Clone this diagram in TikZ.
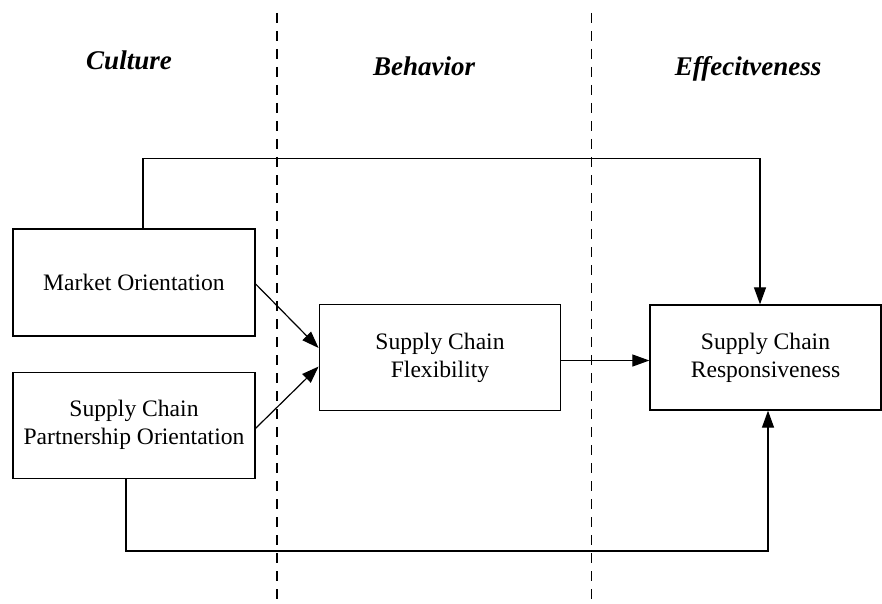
\documentclass[tikz,border=0pt]{standalone}
\usepackage{fontspec}
\setmainfont{Liberation Serif}
\usetikzlibrary{arrows.meta}
\begin{document}
\begin{tikzpicture}[x=1pt,y=-1pt,
  box/.style={draw, line width=1.3pt, align=center, inner sep=0pt,
    font=\fontsize{23.6}{28}\selectfont},
  head/.style={anchor=base, font=\fontsize{27}{32}\selectfont\bfseries\itshape},
  link/.style={line width=1.2pt, -{Triangle[length=17pt,width=12pt]}},
  plain/.style={line width=1.2pt},
  sep/.style={line width=1.2pt, dash pattern=on 10pt off 8pt}]
\useasboundingbox (0,0) rectangle (882,604);

% column separators
\draw[sep] (277,13) -- (277,604);
\draw[sep] (591.5,13) -- (591.5,604);

% column headings
\node[head] (hculture) at (129,70) {Culture};
\node[head] (hbehavior) at (424,75.5) {Behavior};
\node[head] (heffect) at (748,75.5) {Effecitveness};

% boxes
\node[box, minimum width=242pt, minimum height=107pt] (market) at (134,282.5) {Market Orientation};
\node[box, minimum width=242pt, minimum height=106pt] (partner) at (134,425.3) {Supply Chain\\Partnership Orientation};
\node[box, minimum width=241.5pt, minimum height=105.5pt] (flex) at (440,357.5) {Supply Chain\\Flexibility};
\node[box, minimum width=231pt, minimum height=105pt] (resp) at (765.5,357.5) {Supply Chain\\Responsiveness};

% connectors
\draw[link] ([yshift=-1.5pt]market.east) -- ([yshift=9.5pt]flex.west);
\draw[link] ([yshift=-3pt]partner.east) -- ([yshift=-9pt]flex.west);
\draw[link] ([yshift=-3pt]flex.east) -- ([yshift=-3pt]resp.west);
\draw[link] ([xshift=9pt]market.north) -- ++(0,-70) -| ([xshift=-5.5pt]resp.north);
\draw[link] ([xshift=-8pt]partner.south) -- ++(0,72) -| ([xshift=2.5pt]resp.south);
\end{tikzpicture}
\end{document}
